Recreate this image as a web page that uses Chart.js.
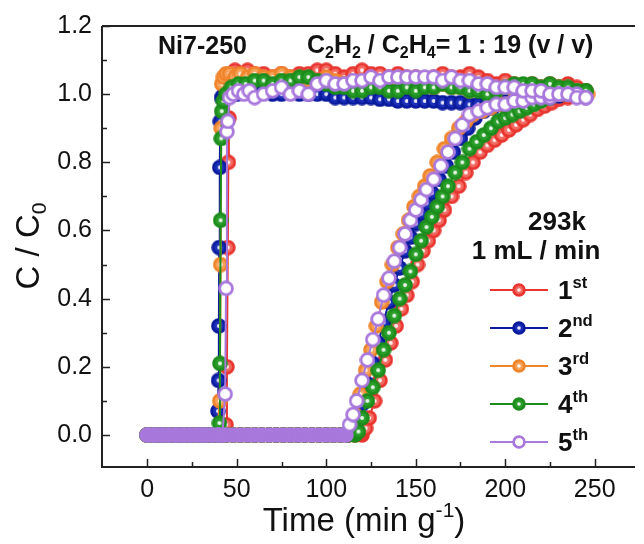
<!DOCTYPE html>
<html>
<head>
<meta charset="utf-8">
<script src="https://cdn.jsdelivr.net/npm/chart.js@4.4.1/dist/chart.umd.min.js"></script>
<style>
    html, body { margin: 0; padding: 0; background: #fff; }
    canvas { display: block; }
</style>
</head>
<body>
<canvas id="chart" width="644" height="544"></canvas>
<script>
// Run labels and colours
const runNames = ['1', '2', '3', '4', '5'];
const runSups = ['st', 'nd', 'rd', 'th', 'th'];
const strokeColors = ['#e8352f', '#0a1a9c', '#f0842a', '#1c8c1c', '#a878dc'];
const fillColors = ['#f26a62', '#1b2fb8', '#f6a25a', '#2a9e2a', '#ffffff'];

const xTicks = [0, 50, 100, 150, 200, 250];
const yTicks = [0, 0.2, 0.4, 0.6, 0.8, 1.0, 1.2];

// C2H4 curves (fast breakthrough)
const eth1X = [0,3,6,9,12,15,18,21,24,27,30,33,36,39,42,44,44.5,45,45.3,45.6,46,47,49,52,56,60,65,70,75,80,85,90,95,100,105,110,115,120,125,130,135,140,145,150,155,160,165,170,175,180,185,190,195,200,205,210,215,220,225,230,235,240,245];
const eth1Y = [0,0,0,0,0,0,0,0,0,0,0,0,0,0,0,0.03,0.2,0.55,0.8,0.93,1.02,1.05,1.07,1.06,1.07,1.06,1.06,1.05,1.06,1.05,1.06,1.06,1.07,1.07,1.06,1.05,1.06,1.07,1.06,1.06,1.05,1.06,1.05,1.05,1.04,1.05,1.06,1.05,1.05,1.06,1.05,1.04,1.03,1.04,1.03,1.02,1.03,1.02,1.03,1.02,1.03,1.02,1.01];

const eth2X = [0,3,6,9,12,15,18,21,24,27,30,33,36,38,39.5,39.8,40,40.2,40.5,40.8,41.5,43,46,50,55,60,65,70,75,80,85,90,95,100,105,110,115,120,125,130,135,140,145,150,155,160,165,170,175,180,185,190,195,200,205,210,215,220,225,230,235,240,245];
const eth2Y = [0,0,0,0,0,0,0,0,0,0,0,0,0,0,0.07,0.16,0.32,0.55,0.785,0.92,0.99,1.0,1.01,1.0,1.01,1.0,1.01,1.0,1.0,1.01,1.0,1.0,1.0,1.0,0.99,0.99,0.99,0.99,0.99,0.985,0.985,0.98,0.98,0.98,0.98,0.98,0.975,0.975,0.975,0.97,0.97,0.97,0.975,0.98,0.98,0.985,0.99,0.99,0.99,0.995,1.0,1.0,1.0];

const eth3X = [0,3,6,9,12,15,18,21,24,27,30,33,36,39,40.5,41,41.3,41.6,42.5,44,46,49,52,56,60,65,70,75,80,85,90,95,100,105,110,115,120,125,130,135,140,145,150,155,160,165,170,175,180,185,190,195,200,205,210,215,220,225,230,235,240,245];
const eth3Y = [0,0,0,0,0,0,0,0,0,0,0,0,0,0,0.1,0.5,0.9,1.03,1.05,1.06,1.06,1.05,1.06,1.05,1.06,1.05,1.05,1.06,1.05,1.05,1.04,1.04,1.05,1.04,1.03,1.03,1.04,1.03,1.03,1.04,1.03,1.03,1.02,1.03,1.02,1.03,1.02,1.02,1.01,1.02,1.01,1.01,1.02,1.01,1.01,1.02,1.01,1.01,1.02,1.01,1.01,1.0];

const eth4X = [0,3,6,9,12,15,18,21,24,27,30,33,36,39,40.3,40.6,41,41.3,41.6,42.5,44,47,51,55,60,65,70,75,80,85,90,95,100,105,110,115,120,125,130,135,140,145,150,155,160,165,170,175,180,185,190,195,200,205,210,215,220,225,230,235,240,245];
const eth4Y = [0,0,0,0,0,0,0,0,0,0,0,0,0,0,0.035,0.21,0.63,0.87,0.95,0.98,1.0,1.02,1.03,1.03,1.04,1.04,1.03,1.04,1.04,1.05,1.05,1.04,1.03,1.02,1.02,1.01,1.01,1.02,1.02,1.01,1.01,1.02,1.01,1.02,1.02,1.03,1.02,1.02,1.01,1.01,1.0,1.01,1.02,1.03,1.03,1.03,1.02,1.03,1.02,1.02,1.01,1.01];

const eth5X = [0,3,6,9,12,15,18,21,24,27,30,33,36,39,42,43.5,44,44.5,45,46,48,51,54,57,60,65,70,75,80,85,90,95,100,105,110,115,120,125,130,135,140,145,150,155,160,165,170,175,180,185,190,195,200,205,210,215,220,225,230,235,240,245];
const eth5Y = [0,0,0,0,0,0,0,0,0,0,0,0,0,0,0,0.12,0.43,0.89,0.92,0.99,1.0,1.01,1.0,1.01,0.99,1.0,1.01,1.02,1.0,1.01,1.0,1.03,1.04,1.03,1.03,1.04,1.04,1.05,1.04,1.05,1.05,1.05,1.05,1.05,1.05,1.04,1.05,1.04,1.04,1.03,1.03,1.02,1.02,1.02,1.01,1.01,1.01,1.0,1.0,1.0,0.99,0.99];

// C2H2 curves (late breakthrough)
const ace1X = [0,4,8,12,16,20,24,28,32,36,40,44,48,52,56,60,64,68,72,76,80,84,88,92,96,100,104,108,112,116,120,122,124,127,130,133,136,139,142,145,148,151,154,157,160,163,166,170,174,178,182,186,190,194,198,202,206,210,214,218,222,226,230,235,240,245];
const ace1Y = [0,0,0,0,0,0,0,0,0,0,0,0,0,0,0,0,0,0,0,0,0,0,0,0,0,0,0,0,0,0,0,0.02,0.05,0.1,0.16,0.22,0.27,0.32,0.37,0.41,0.45,0.5,0.54,0.57,0.6,0.63,0.66,0.7,0.73,0.77,0.8,0.83,0.85,0.865,0.88,0.895,0.91,0.925,0.94,0.955,0.965,0.975,0.985,0.99,0.995,1.0];

const ace2X = [0,4,8,12,16,20,24,28,32,36,40,44,48,52,56,60,64,68,72,76,80,84,88,92,96,100,104,108,112,115,117,120,123,126,129,132,135,138,141,144,147,150,153,156,159,163,167,171,175,179,183,188,193,198,203,208,213,218,223,228,233,238,243];
const ace2Y = [0,0,0,0,0,0,0,0,0,0,0,0,0,0,0,0,0,0,0,0,0,0,0,0,0,0,0,0,0,0.01,0.04,0.09,0.15,0.21,0.27,0.33,0.39,0.44,0.49,0.54,0.58,0.62,0.65,0.68,0.71,0.75,0.79,0.83,0.87,0.9,0.93,0.95,0.96,0.97,0.98,0.98,0.99,0.99,1.0,1.0,1.0,1.0,1.0];

const ace3X = [0,4,8,12,16,20,24,28,32,36,40,44,48,52,56,60,64,68,72,76,80,84,88,92,96,100,104,108,112,114,116,119,122,125,128,131,134,137,140,143,146,149,152,155,158,162,166,170,174,178,182,187,192,197,202,207,212,217,222,227,232,237,242,246];
const ace3Y = [0,0,0,0,0,0,0,0,0,0,0,0,0,0,0,0,0,0,0,0,0,0,0,0,0,0,0,0,0,0.02,0.06,0.12,0.19,0.25,0.32,0.39,0.45,0.5,0.55,0.59,0.63,0.67,0.7,0.73,0.76,0.8,0.84,0.87,0.9,0.92,0.94,0.95,0.96,0.97,0.97,0.98,0.99,0.99,1.0,1.0,1.0,1.01,1.0,1.0];

const ace4X = [0,4,8,12,16,20,24,28,32,36,40,44,48,52,56,60,64,68,72,76,80,84,88,92,96,100,104,108,112,116,118,120,123,126,129,132,135,138,141,144,147,150,153,156,159,162,165,168,172,176,180,184,188,192,196,200,204,208,212,216,220,225,230,235,240,245];
const ace4Y = [0,0,0,0,0,0,0,0,0,0,0,0,0,0,0,0,0,0,0,0,0,0,0,0,0,0,0,0,0,0,0.01,0.05,0.1,0.14,0.19,0.25,0.3,0.35,0.4,0.44,0.48,0.53,0.57,0.61,0.64,0.67,0.7,0.73,0.77,0.8,0.84,0.86,0.88,0.9,0.92,0.93,0.94,0.95,0.96,0.97,0.98,0.99,1.0,1.0,1.01,1.01];

const ace5X = [0,4,8,12,16,20,24,28,32,36,40,44,48,52,56,60,64,68,72,76,80,84,88,92,96,100,104,108,111,113,115,117,120,123,126,129,132,135,138,141,144,147,150,153,156,160,164,168,172,176,180,185,190,195,200,205,210,215,220,225,230,235,240,245];
const ace5Y = [0,0,0,0,0,0,0,0,0,0,0,0,0,0,0,0,0,0,0,0,0,0,0,0,0,0,0,0,0,0.03,0.06,0.1,0.16,0.22,0.28,0.34,0.41,0.46,0.51,0.55,0.59,0.63,0.66,0.69,0.72,0.75,0.79,0.83,0.87,0.91,0.94,0.95,0.96,0.97,0.97,0.98,0.98,0.99,0.99,0.99,1.0,1.0,1.0,0.99];

const ethX = [eth1X, eth2X, eth3X, eth4X, eth5X];
const ethY = [eth1Y, eth2Y, eth3Y, eth4Y, eth5Y];
const aceX = [ace1X, ace2X, ace3X, ace4X, ace5X];
const aceY = [ace1Y, ace2Y, ace3Y, ace4Y, ace5Y];

// top-most run drawn last: purple, green, orange, blue, red
const drawOrder = [4, 3, 2, 1, 0];

const FONT = '"Liberation Sans", Arial, Helvetica, sans-serif';
const AXIS = '#222222';

//Makes a circle marker with a light centre
function makeMarker(stroke, fill, dotR, size) {
    const c = document.createElement('canvas');
    c.width = size;
    c.height = size;
    const g = c.getContext('2d');
    const m = size / 2;
    g.beginPath();
    g.arc(m, m, m - 1.6, 0, Math.PI * 2);
    g.fillStyle = fill;
    g.fill();
    g.lineWidth = 2.8;
    g.strokeStyle = stroke;
    g.stroke();
    if (dotR > 0) {
        g.beginPath();
        g.arc(m, m, dotR, 0, Math.PI * 2);
        g.fillStyle = 'rgba(255,255,255,0.9)';
        g.fill();
    }
    return c;
}

const markers = strokeColors.map((c, i) => makeMarker(c, fillColors[i], i === 4 ? 3.4 : 2, 16));
// the long zero baseline is a dense band in the picture: solid markers there
const solidMarkers = strokeColors.map((c) => makeMarker(c, c, 0, 16));
const legendMarkers = strokeColors.map((c, i) => makeMarker(c, fillColors[i], i === 4 ? 2.8 : 1.8, 14));

function toPoints(xs, ys) {
    return xs.map((x, i) => ({x: x, y: ys[i]}));
}

let datasets = [];
for (let i = 0; i < 5; i++) {
    const base = {
        showLine: true,
        borderColor: strokeColors[i],
        borderWidth: 2,
        pointStyle: (ctx) => (ctx.raw && ctx.raw.y === 0 ? solidMarkers[i] : markers[i]),
        pointRadius: 7,
        order: drawOrder[i],
        tension: 0
    };
    datasets.push(Object.assign({label: 'C2H4 ' + runNames[i], data: toPoints(ethX[i], ethY[i])}, base));
    datasets.push(Object.assign({label: 'C2H2 ' + runNames[i], data: toPoints(aceX[i], aceY[i])}, base));
}

//Draws text made of normal, sub and sup pieces
function richWidth(ctx, parts, size, weight) {
    let w = 0;
    parts.forEach(p => {
        const s = p[1] ? size * 0.64 : size;
        ctx.font = weight + ' ' + s + 'px ' + FONT;
        w += ctx.measureText(p[0]).width;
    });
    return w;
}

function drawRich(ctx, parts, x, y, size, weight, align) {
    const w = richWidth(ctx, parts, size, weight);
    let cx = align === 'center' ? x - w / 2 : (align === 'right' ? x - w : x);
    ctx.textBaseline = 'middle';
    ctx.textAlign = 'left';
    parts.forEach(p => {
        const s = p[1] ? size * 0.64 : size;
        let dy = 0;
        if (p[1] === 'sub') dy = size * 0.3;
        if (p[1] === 'sup') dy = -size * 0.33;
        ctx.font = weight + ' ' + s + 'px ' + FONT;
        ctx.fillText(p[0], cx, y + dy);
        cx += ctx.measureText(p[0]).width;
    });
}

const decorations = {
    id: 'decorations',
    afterDraw(chart) {
        const ctx = chart.ctx;
        const a = chart.chartArea;
        const xs = chart.scales.x;
        const ys = chart.scales.y;
        ctx.save();

        //Axes lines (left, bottom, top)
        ctx.strokeStyle = AXIS;
        ctx.lineWidth = 2;
        ctx.beginPath();
        ctx.moveTo(a.left, a.top);
        ctx.lineTo(a.left, a.bottom);
        ctx.lineTo(a.right, a.bottom);
        ctx.moveTo(a.left, a.top);
        ctx.lineTo(a.right, a.top);
        ctx.stroke();

        //Inward ticks
        ctx.lineWidth = 1.5;
        ctx.beginPath();
        for (let v = 0; v <= 275; v += 25) {
            const px = Math.round(xs.getPixelForValue(v)) + 0.5;
            if (px > a.right) continue;
            const len = v % 50 === 0 ? 8 : 5;
            ctx.moveTo(px, a.bottom);
            ctx.lineTo(px, a.bottom - len);
        }
        for (let k = 0; k <= 12; k++) {
            const py = Math.round(ys.getPixelForValue(k / 10)) + 0.5;
            const len = k % 2 === 0 ? 8 : 5;
            ctx.moveTo(a.left, py);
            ctx.lineTo(a.left + len, py);
        }
        ctx.stroke();

        ctx.fillStyle = '#111';

        //Axis titles
        drawRich(ctx, [['Time (min g'], ['-1', 'sup'], [')']], 364, 522, 33, 'normal', 'center');
        ctx.save();
        ctx.translate(30, 246);
        ctx.rotate(-Math.PI / 2);
        drawRich(ctx, [['C / C'], ['0', 'sub']], 0, 0, 33, 'normal', 'center');
        ctx.restore();

        //Annotations
        drawRich(ctx, [['Ni7-250']], 158, 47, 25, 'bold', 'left');
        drawRich(ctx, [['C'], ['2', 'sub'], ['H'], ['2', 'sub'], [' / C'], ['2', 'sub'], ['H'], ['4', 'sub'], ['= 1 : 19 (v / v)']], 307, 46, 25, 'bold', 'left');
        drawRich(ctx, [['293k']], 557, 223, 26, 'bold', 'center');
        drawRich(ctx, [['1 mL / min']], 536, 252, 26, 'bold', 'center');

        //Legend
        const rowY = [290, 328, 366, 404, 442];
        for (let i = 0; i < 5; i++) {
            const y = rowY[i];
            ctx.strokeStyle = strokeColors[i];
            ctx.lineWidth = 2;
            ctx.beginPath();
            ctx.moveTo(490, y);
            ctx.lineTo(548, y);
            ctx.stroke();
            ctx.drawImage(legendMarkers[i], 519 - 7, y - 7);
            ctx.fillStyle = '#111';
            drawRich(ctx, [[runNames[i]], [runSups[i], 'sup']], 558, y + 2, 26, 'bold', 'left');
        }
        ctx.restore();
    }
};

new Chart(document.getElementById('chart'), {
    type: 'scatter',
    data: {datasets: datasets},
    options: {
        responsive: false,
        animation: false,
        layout: {padding: {top: 26, right: 0, left: 0, bottom: 0}},
        plugins: {
            legend: {display: false},
            tooltip: {enabled: false}
        },
        scales: {
            x: {
                type: 'linear',
                min: -25.3,
                max: 272.5,
                grid: {display: false, drawTicks: false},
                border: {display: false},
                afterBuildTicks: (scale) => {
                    scale.ticks = xTicks.map(v => ({value: v}));
                },
                afterFit: (scale) => {
                    scale.height = 77;
                },
                ticks: {
                    padding: 8,
                    color: '#111',
                    maxRotation: 0,
                    font: {family: FONT, size: 25}
                }
            },
            y: {
                type: 'linear',
                min: -0.094,
                max: 1.2,
                grid: {display: false, drawTicks: false},
                border: {display: false},
                afterBuildTicks: (scale) => {
                    scale.ticks = yTicks.map(v => ({value: v}));
                },
                afterFit: (scale) => {
                    scale.width = 102;
                },
                ticks: {
                    padding: 10,
                    color: '#111',
                    font: {family: FONT, size: 25},
                    callback: (v) => v.toFixed(1)
                }
            }
        }
    },
    plugins: [decorations]
});
</script>
</body>
</html>
